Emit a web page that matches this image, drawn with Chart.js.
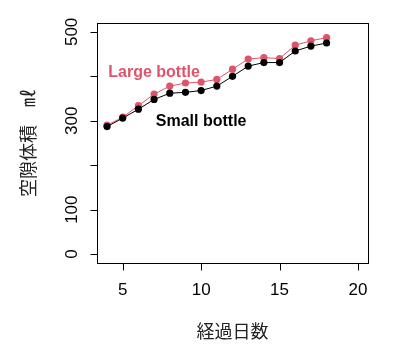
<!DOCTYPE html>
<html>
<head>
<meta charset="utf-8">
<script src="https://cdn.jsdelivr.net/npm/chart.js@4.4.1/dist/chart.umd.min.js"></script>
<style>
html,body{margin:0;padding:0;background:#fff;}
#wrap{width:402px;height:358px;position:relative;}
</style>
</head>
<body>
<div id="wrap"><canvas id="c" width="402" height="358"></canvas></div>
<script>
const days = [4,5,6,7,8,9,10,11,12,13,14,15,16,17,18];
const smallBottle = [287,306,326,348,362,364,368,378,400,423,431,431,457,468,475];
const largeBottle = [290,308,334,360,378,385,387,393,416,439,442,440,470,480,487];
const xTicks = [5,10,15,20];
const yTicks = [0,100,200,300,400,500];
const yTickLabels = ['0','100','','300','','500'];
const xTitle = '経過日数';
const yTitle = '空隙体積　㎖';
const seriesNames = ['Small bottle','Large bottle'];

const RED = '#DF536B';
const NUMFONT = '17px "Liberation Sans", Arial, sans-serif';
const CJKFONT = '18px "Noto Sans CJK JP", sans-serif';

const rAxes = {
  id: 'rAxes',
  afterDraw(chart) {
    const ctx = chart.ctx, a = chart.chartArea;
    const xs = chart.scales.x, ys = chart.scales.y;
    ctx.save();
    ctx.strokeStyle = '#000';
    ctx.lineWidth = 1;
    ctx.strokeRect(Math.round(a.left)+0.5, Math.round(a.top)+0.5, Math.round(a.right-a.left), Math.round(a.bottom-a.top));
    ctx.fillStyle = '#000';
    // x axis
    ctx.beginPath();
    const yb = Math.round(a.bottom)+0.5;
    ctx.moveTo(Math.round(xs.getPixelForValue(xTicks[0]))+0.5, yb);
    ctx.lineTo(Math.round(xs.getPixelForValue(xTicks[xTicks.length-1]))+0.5, yb);
    xTicks.forEach(v => {
      const px = Math.round(xs.getPixelForValue(v))+0.5;
      ctx.moveTo(px, yb); ctx.lineTo(px, yb+7);
    });
    ctx.stroke();
    ctx.font = NUMFONT;
    ctx.textAlign = 'center'; ctx.textBaseline = 'middle';
    xTicks.forEach(v => ctx.fillText(String(v), xs.getPixelForValue(v), a.bottom+27));
    // y axis
    const xl = Math.round(a.left)+0.5;
    ctx.beginPath();
    ctx.moveTo(xl, Math.round(ys.getPixelForValue(yTicks[0]))+0.5);
    ctx.lineTo(xl, Math.round(ys.getPixelForValue(yTicks[yTicks.length-1]))+0.5);
    yTicks.forEach(v => {
      const py = Math.round(ys.getPixelForValue(v))+0.5;
      ctx.moveTo(xl, py); ctx.lineTo(xl-7, py);
    });
    ctx.stroke();
    yTicks.forEach((v,i) => {
      if (!yTickLabels[i]) return;
      ctx.save();
      ctx.translate(a.left-25, ys.getPixelForValue(v));
      ctx.rotate(-Math.PI/2);
      ctx.fillText(yTickLabels[i], 0, 0);
      ctx.restore();
    });
    // titles
    ctx.font = CJKFONT;
    ctx.fillStyle = '#222';
    ctx.fillText(xTitle, (a.left+a.right)/2, a.bottom+68);
    ctx.save();
    ctx.translate(28, (a.top+a.bottom)/2);
    ctx.rotate(-Math.PI/2);
    ctx.fillText(yTitle, 0, 0);
    ctx.restore();
    // series text labels
    ctx.font = 'bold 16px "Liberation Sans", Arial, sans-serif';
    ctx.fillStyle = RED;
    ctx.fillText(seriesNames[1], xs.getPixelForValue(7), ys.getPixelForValue(408));
    ctx.fillStyle = '#000';
    ctx.fillText(seriesNames[0], xs.getPixelForValue(10), ys.getPixelForValue(298));
    ctx.restore();
  }
};

new Chart(document.getElementById('c'), {
  type: 'line',
  data: {
    datasets: [
      { label: seriesNames[0], data: days.map((d,i)=>({x:d,y:smallBottle[i]})),
        borderColor:'#000', backgroundColor:'#000', pointBackgroundColor:'#000', pointBorderWidth:0,
        borderWidth:1, pointRadius:3.6, tension:0, order:0 },
      { label: seriesNames[1], data: days.map((d,i)=>({x:d,y:largeBottle[i]})),
        borderColor:RED, backgroundColor:RED, pointBackgroundColor:RED, pointBorderWidth:0,
        borderWidth:1, pointRadius:3.6, tension:0, order:1 }
    ]
  },
  options: {
    responsive:false, animation:false, devicePixelRatio:1,
    layout:{padding:{top:23,right:34,left:0,bottom:0}},
    plugins:{legend:{display:false}, tooltip:{enabled:false}},
    scales:{
      x:{type:'linear', min:3.36, max:20.64, ticks:{display:false}, grid:{display:false}, border:{display:false},
         afterFit(s){s.height=95;}},
      y:{type:'linear', min:-20, max:520, ticks:{display:false}, grid:{display:false}, border:{display:false},
         afterFit(s){s.width=97;}}
    }
  },
  plugins:[rAxes]
});
</script>
</body>
</html>
